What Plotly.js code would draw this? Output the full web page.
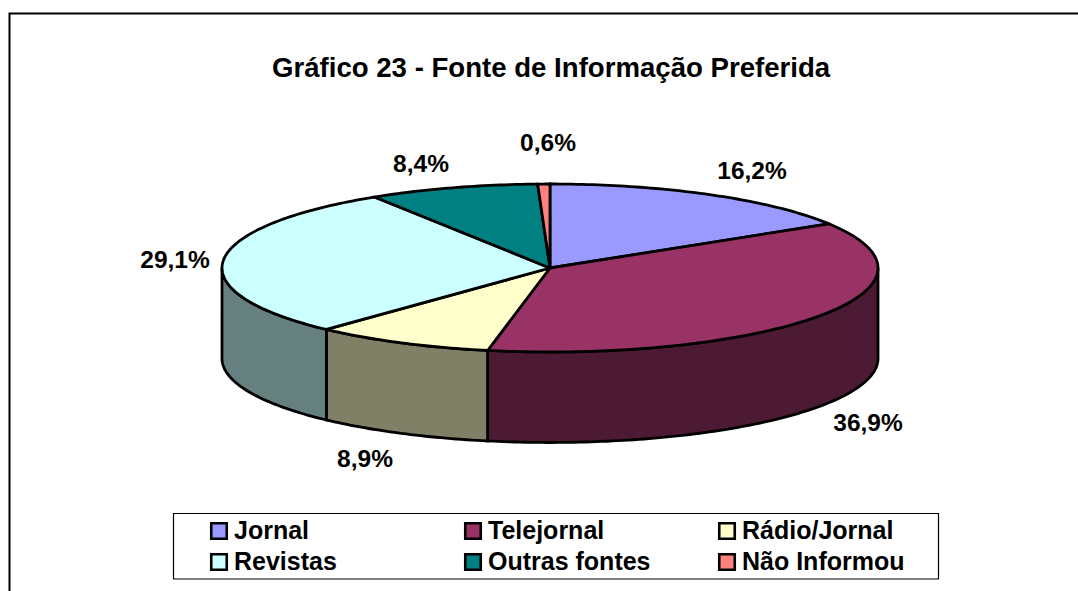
<!DOCTYPE html>
<html>
<head>
<meta charset="utf-8">
<script src="https://cdn.plot.ly/plotly-3.0.1.min.js"></script>
<style>html,body{margin:0;padding:0;background:#fff;overflow:hidden}#c{width:1078px;height:591px}</style>
</head>
<body>
<div id="c"></div>
<script>
const chartTitle = "Gráfico 23 - Fonte de Informação Preferida";
const categories = ["Jornal", "Telejornal", "Rádio/Jornal", "Revistas", "Outras fontes", "Não Informou"];
const shares = [16.2, 36.9, 8.9, 29.1, 8.4, 0.6];
const valueLabels = ["16,2%", "36,9%", "8,9%", "29,1%", "8,4%", "0,6%"];
const topColors = ["#9999FF", "#993366", "#FFFFCC", "#CCFFFF", "#008080", "#FF8080"];
const sideColors = ["#4D4D80", "#4D1A33", "#808066", "#668080", "#004040", "#804040"];
const labelPos = [[752,172.5],[868,424.5],[365,460.5],[175,261.5],[421,165.5],[548,144.5]];
const legendCols = [219, 473, 727];
const legendRows = [531, 562];

const cx = 550, cy = 268, rx = 328, ry = 84, depth = 90.5;
const font = "Liberation Sans, Arial, sans-serif";
const total = shares.reduce((a, b) => a + b, 0);
const px = t => cx + rx * Math.sin(t);
const py = t => cy - ry * Math.cos(t);
const traces = [];
let acc = 0;
const spans = shares.map(v => { const s = acc / total * 2 * Math.PI; acc += v; return [s, acc / total * 2 * Math.PI]; });
const arc = (a, b) => { const n = Math.max(2, Math.ceil((b - a) * 60)), r = []; for (let i = 0; i <= n; i++) r.push(a + (b - a) * i / n); return r; };
const poly = (x, y, color, name) => traces.push({x, y, mode: "lines", fill: "toself", fillcolor: color, name, hoverinfo: "name",
  line: {color: "#000", width: 2.8, simplify: false}, showlegend: false});

// side walls: only the front half of the ellipse is visible
spans.forEach((s, i) => {
  const a = Math.max(s[0], Math.PI / 2), b = Math.min(s[1], 3 * Math.PI / 2);
  if (b <= a) return;
  const ts = arc(a, b);
  poly([...ts.map(px), ...ts.slice().reverse().map(px), px(ts[0])],
       [...ts.map(py), ...ts.slice().reverse().map(t => py(t) + depth), py(ts[0])],
       sideColors[i], categories[i]);
});
// top faces
spans.forEach((s, i) => {
  const ts = arc(s[0], s[1]);
  poly([cx, ...ts.map(px), cx], [cy, ...ts.map(py), cy], topColors[i], categories[i]);
});
// value labels
traces.push({x: labelPos.map(p => p[0]), y: labelPos.map(p => p[1]), text: valueLabels, mode: "text",
  textposition: "middle center", textfont: {family: font, size: 24.5, color: "#000", weight: "bold"}, hoverinfo: "skip", showlegend: false});
// legend
categories.forEach((c, i) => {
  const x = legendCols[i % 3], y = legendRows[Math.floor(i / 3)];
  traces.push({x: [x], y: [y], mode: "markers", name: c, hoverinfo: "name", showlegend: false,
    marker: {symbol: "square", size: 15.5, color: topColors[i], line: {color: "#000", width: 2.6}}});
  traces.push({x: [x + 15], y: [y + 1.5], text: [c], mode: "text", textposition: "middle right", hoverinfo: "skip", showlegend: false,
    textfont: {family: font, size: 25, color: "#000", weight: "bold"}});
});
const layout = {
  width: 1078, height: 591, margin: {l: 0, r: 0, t: 0, b: 0},
  paper_bgcolor: "#fff", plot_bgcolor: "#fff", showlegend: false,
  xaxis: {range: [0, 1078], visible: false, fixedrange: true},
  yaxis: {range: [591, 0], visible: false, fixedrange: true},
  annotations: [{text: "<b>" + chartTitle + "</b>", xref: "x", yref: "y", x: 551, y: 67, showarrow: false,
    xanchor: "center", yanchor: "middle", font: {family: font, size: 27.6, color: "#000"}}],
  shapes: [
    {type: "rect", xref: "x", yref: "y", x0: 173.5, x1: 938.5, y0: 513.5, y1: 579, line: {color: "#000", width: 1.2}, fillcolor: "rgba(0,0,0,0)", layer: "below"},
    {type: "path", xref: "x", yref: "y", path: "M9.5,591 L9.5,13.5 L1078,13.5", line: {color: "#000", width: 2}, layer: "below"}
  ]
};
Plotly.newPlot("c", traces, layout, {displayModeBar: false, staticPlot: true});
</script>
</body>
</html>
